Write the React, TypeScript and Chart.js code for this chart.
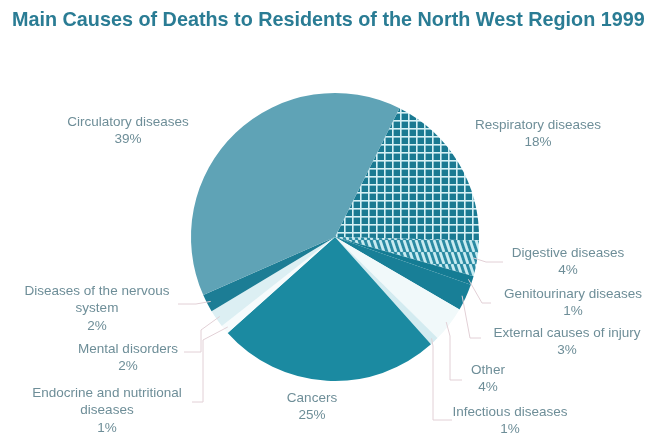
import React, { useEffect, useRef } from "react";
import { Chart, registerables } from "chart.js";

Chart.register(...registerables);

const TITLE = "Main Causes of Deaths to Residents of the North West Region 1999";

// Data, clockwise starting from the Respiratory slice
const categories = [
  "Respiratory diseases",
  "Digestive diseases",
  "Genitourinary diseases",
  "External causes of injury",
  "Other",
  "Infectious diseases",
  "Cancers",
  "Endocrine and nutritional diseases",
  "Mental disorders",
  "Diseases of the nervous system",
  "Circulatory diseases",
];
const values = [18, 4, 1, 3, 4, 1, 25, 1, 2, 2, 39];
const labelText = [
  ["Respiratory diseases"],
  ["Digestive diseases"],
  ["Genitourinary diseases"],
  ["External causes of injury"],
  ["Other"],
  ["Infectious diseases"],
  ["Cancers"],
  ["Endocrine and nutritional", "diseases"],
  ["Mental disorders"],
  ["Diseases of the nervous", "system"],
  ["Circulatory diseases"],
];

// Layout (not data): label anchor (center x, first-line y) and leader elbows
const labelPos: [number, number][] = [
  [538, 125],
  [568, 253],
  [573, 294],
  [567, 333],
  [488, 370],
  [510, 412],
  [312, 398],
  [107, 393],
  [128, 349],
  [97, 291],
  [128, 122],
];
const leaders: ([number, number][] | null)[] = [
  null,
  [[486, 262], [503, 262]],
  [[482, 303], [491, 303]],
  [[470, 338], [481, 338]],
  [[450, 336], [450, 380], [462, 380]],
  [[433, 346], [433, 420], [452, 420]],
  null,
  [[203, 340], [203, 402], [192, 402]],
  [[201, 330], [201, 352], [184, 352]],
  [[196, 304], [178, 304]],
  null,
];

function crossHatch(): CanvasPattern | string {
  const c = document.createElement("canvas");
  c.width = 8;
  c.height = 8;
  const g = c.getContext("2d");
  if (!g) return "#1b7c94";
  g.fillStyle = "#1a7a92";
  g.fillRect(0, 0, 8, 8);
  g.fillStyle = "#d6f1f5";
  g.fillRect(0, 0, 8, 1.6);
  g.fillRect(0, 0, 1.6, 8);
  return g.createPattern(c, "repeat") || "#1b7c94";
}

function stripes(): CanvasPattern | string {
  const c = document.createElement("canvas");
  c.width = 6;
  c.height = 12;
  const g = c.getContext("2d");
  if (!g) return "#5fb0c2";
  g.fillStyle = "#2a8aa2";
  g.fillRect(0, 0, 6, 12);
  g.strokeStyle = "#c8ebf1";
  g.lineWidth = 2.8;
  for (let k = -1; k <= 1; k++) {
    g.beginPath();
    g.moveTo(k * 6 + 2, 0);
    g.lineTo(k * 6 + 6, 12);
    g.stroke();
  }
  return g.createPattern(c, "repeat") || "#5fb0c2";
}

export default function App() {
  const ref = useRef<HTMLCanvasElement | null>(null);

  useEffect(() => {
    if (!ref.current) return;
    const colors: (string | CanvasPattern)[] = [
      crossHatch(),
      stripes(),
      "#147c94",
      "#187f97",
      "#f1f9fa",
      "#d3ebf0",
      "#1b8aa1",
      "#f6fbfc",
      "#dceff3",
      "#1c7d95",
      "#5fa3b6",
    ];

    const overlay = {
      id: "overlay",
      afterDraw(chart: any) {
        const ctx = chart.ctx as CanvasRenderingContext2D;
        ctx.save();
        // title
        ctx.font = "bold 19.8px 'Liberation Sans', Arial, sans-serif";
        ctx.fillStyle = "#2a7c94";
        ctx.textAlign = "left";
        ctx.textBaseline = "middle";
        ctx.fillText(TITLE, 12, 21);

        const meta = chart.getDatasetMeta(0);
        // leader lines
        ctx.strokeStyle = "#e2d0d6";
        ctx.lineWidth = 1;
        meta.data.forEach((arc: any, i: number) => {
          const pts = leaders[i];
          if (!pts) return;
          const mid = (arc.startAngle + arc.endAngle) / 2;
          const r = arc.outerRadius - 4;
          ctx.beginPath();
          ctx.moveTo(arc.x + Math.cos(mid) * r, arc.y + Math.sin(mid) * r);
          pts.forEach((p) => ctx.lineTo(p[0], p[1]));
          ctx.stroke();
        });

        // labels
        ctx.font = "13.5px 'Liberation Sans', Arial, sans-serif";
        ctx.fillStyle = "#6e8e98";
        ctx.textAlign = "center";
        labelText.forEach((lines, i) => {
          const [x, y] = labelPos[i];
          const all = [...lines, values[i] + "%"];
          all.forEach((t, j) => ctx.fillText(t, x, y + j * 17.5));
        });
        ctx.restore();
      },
    };

    const chart = new Chart(ref.current, {
      type: "pie",
      data: {
        labels: categories,
        datasets: [
          {
            data: values,
            backgroundColor: colors as any,
            borderWidth: 0,
          },
        ],
      },
      options: {
        responsive: false,
        animation: false,
        rotation: 26.6,
        layout: { padding: { top: 92, bottom: 54, left: 191, right: 179 } },
        plugins: {
          legend: { display: false },
          tooltip: { enabled: false },
          title: { display: false },
        },
      },
      plugins: [overlay],
    });
    return () => chart.destroy();
  }, []);

  return (
    <div style={{ position: "fixed", left: 0, top: 0, width: 658, height: 436, background: "#fff" }}>
      <canvas ref={ref} width={658} height={436} style={{ display: "block" }} />
    </div>
  );
}
